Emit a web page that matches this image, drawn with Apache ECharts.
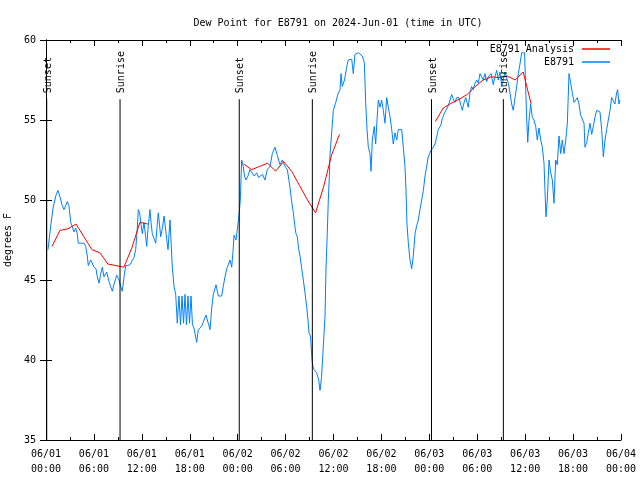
<!DOCTYPE html>
<html><head><meta charset="utf-8">
<script src="https://cdn.jsdelivr.net/npm/echarts@6/dist/echarts.min.js"></script>
<style>html,body{margin:0;padding:0;background:#fff}#c{width:640px;height:480px}</style>
</head><body><div id="c"></div>
<script>
// Observed dew point (hours since 2024-06-01 00:00 UTC, degrees F)
const obsHours = [0.25,0.5,0.88,1.25,1.5,1.75,2.0,2.25,2.67,2.88,3.1,3.25,3.5,3.72,3.92,4.04,4.76,4.97,5.17,5.3,5.6,5.76,6.0,6.26,6.42,6.64,6.82,7.05,7.26,7.6,7.89,8.08,8.3,8.5,8.85,9.14,9.35,9.55,9.77,9.98,10.27,10.6,10.77,11.02,11.23,11.4,11.56,11.73,11.86,12.06,12.27,12.48,12.61,12.77,13.02,13.15,13.31,13.52,13.74,13.9,14.06,14.21,14.36,14.59,14.78,14.99,15.15,15.28,15.4,15.53,15.65,15.82,16.03,16.24,16.44,16.65,16.84,17.03,17.22,17.41,17.59,17.78,17.97,18.16,18.34,18.53,18.87,19.07,19.28,19.5,19.78,20.04,20.32,20.54,20.75,20.95,21.29,21.58,22.0,22.2,22.41,22.63,22.83,23.04,23.25,23.42,23.54,23.79,24.04,24.2,24.33,24.5,24.7,24.85,25.04,25.29,25.54,25.8,26.08,26.38,26.61,26.8,27.11,27.42,27.71,28.05,28.34,28.68,28.96,29.3,29.59,29.93,30.22,30.55,30.74,30.97,31.18,31.3,31.47,31.62,31.81,32.0,32.22,32.43,32.65,32.81,32.93,33.12,33.31,33.43,33.56,33.75,33.9,34.15,34.31,34.5,34.72,34.94,35.06,35.22,35.35,35.46,35.56,35.77,35.98,36.28,36.6,36.82,36.94,37.1,37.38,37.65,37.85,38.28,38.48,38.69,38.9,39.11,39.32,39.61,39.86,40.03,40.2,40.36,40.57,40.7,40.86,41.11,41.28,41.45,41.61,41.82,42.03,42.24,42.45,42.66,42.86,43.08,43.29,43.49,43.7,43.92,44.11,44.33,44.54,44.74,44.95,45.08,45.2,45.37,45.58,45.79,45.99,46.21,46.42,46.62,46.83,47.04,47.25,47.46,47.67,47.87,48.21,48.5,48.71,48.92,49.12,49.46,49.62,49.96,50.38,50.59,50.8,51.0,51.21,51.42,51.71,51.96,52.13,52.3,52.55,52.72,52.88,53.09,53.3,53.5,53.72,53.93,54.13,54.34,54.55,54.76,54.97,55.18,55.39,55.72,56.01,56.22,56.43,56.63,56.85,57.06,57.26,57.47,57.68,57.89,58.1,58.31,58.51,58.73,58.94,59.14,59.35,59.56,59.77,59.92,60.07,60.2,60.32,60.48,60.69,60.89,61.1,61.32,61.52,61.73,61.95,62.15,62.36,62.48,62.61,62.77,62.99,63.17,63.4,63.61,63.82,64.02,64.24,64.45,64.65,64.86,65.08,65.28,65.49,65.7,65.9,66.12,66.33,66.53,66.74,66.95,67.16,67.37,67.49,67.71,67.91,68.12,68.33,68.53,68.75,68.96,69.16,69.37,69.58,69.79,70.0,70.2,70.41,70.62,70.83,71.03,71.24,71.45,71.58,71.74,71.87];
const obsDew = [46.9,48.0,49.5,50.3,50.6,50.2,49.7,49.4,49.9,49.6,48.6,48.4,48.0,48.25,47.9,47.3,47.3,47.1,46.5,45.9,46.25,46.1,45.8,45.7,45.2,44.8,45.3,45.8,45.2,45.5,44.9,44.6,44.3,44.7,45.3,45.0,44.6,44.3,45.2,45.9,45.9,46.0,46.2,46.4,46.9,48.0,49.4,49.2,48.6,47.9,48.6,47.7,47.1,48.2,49.4,48.6,47.9,47.6,47.3,48.3,49.2,48.5,47.7,48.3,49.0,48.1,47.4,46.9,47.8,48.75,47.5,45.8,44.6,44.1,42.3,44.0,42.2,44.0,42.3,44.1,42.2,44.0,42.3,44.0,42.2,42.0,41.1,41.9,41.9,42.1,42.5,42.8,42.3,41.9,43.25,44.1,44.7,44.0,44.0,44.6,45.2,45.7,45.8,46.25,45.8,46.8,47.8,47.5,48.5,49.2,50.0,52.5,52.1,51.5,51.25,51.5,51.9,51.7,51.5,51.7,51.4,51.5,51.6,51.25,51.9,52.1,52.9,53.3,52.8,52.2,52.5,52.1,51.9,50.8,50.0,49.2,48.3,47.9,47.7,47.0,46.5,45.8,45.0,44.2,43.3,42.5,41.7,41.5,40.0,39.6,39.4,39.3,39.2,38.75,38.1,38.9,40.8,42.8,45.7,47.9,50.0,51.25,52.8,54.2,55.6,56.1,56.7,56.9,57.9,57.1,57.5,58.3,58.75,58.8,57.9,59.1,59.0,59.2,59.3,59.0,58.6,56.1,54.4,53.3,52.9,51.8,53.75,54.6,53.5,55.0,56.25,55.8,56.25,55.6,54.8,56.4,55.8,55.2,54.4,53.5,54.2,53.75,54.4,54.5,54.4,53.3,52.1,50.6,48.5,47.3,46.25,45.7,46.5,47.9,48.4,48.75,49.4,50.0,50.6,51.5,52.1,52.7,53.1,53.3,53.5,53.95,54.4,54.7,55.1,55.5,55.9,56.25,56.6,56.3,56.1,56.4,56.4,55.9,55.6,56.0,56.4,56.1,55.8,56.7,57.1,56.9,57.3,57.5,57.3,57.9,57.8,57.5,57.9,57.4,57.7,57.9,57.2,57.7,58.1,57.5,58.0,57.1,57.5,58.0,57.9,57.3,56.7,56.0,55.6,56.4,57.1,57.9,58.5,59.2,59.2,59.2,56.9,55.0,53.6,55.0,56.0,55.2,55.0,54.6,53.75,54.5,53.75,53.3,52.3,50.6,48.95,50.0,52.5,51.8,51.25,49.8,52.5,52.2,54.0,52.9,53.75,52.9,53.75,54.8,57.9,57.3,56.7,56.1,56.25,56.4,56.0,55.3,55.2,54.8,53.3,53.6,54.2,54.8,54.1,54.6,55.2,55.6,55.7,55.5,54.4,52.7,53.75,54.4,55.0,55.6,56.4,56.2,56.0,56.7,56.9,56.0,56.25];

// Analysis (hourly, three separate runs)
const anaHours1 = [0.75,1.75,2.75,3.75,4.75,5.75,6.75,7.75,8.75,9.75,10.75,11.75,12.75];
const anaDew1 = [47.1,48.1,48.2,48.5,47.7,46.9,46.7,46.0,45.9,45.8,47.0,48.6,48.5];
const anaHours2 = [24.75,25.75,26.75,27.75,28.75,29.75,30.75,31.75,32.75,33.75,34.75,35.75,36.75];
const anaDew2 = [52.25,51.9,52.1,52.3,51.8,52.4,51.8,50.9,50.0,49.2,50.8,52.8,54.1];
const anaHours3 = [48.75,49.75,50.75,51.75,52.75,53.75,54.75,55.75,56.75,57.75,58.75,59.75,60.75];
const anaDew3 = [54.9,55.75,56.05,56.3,56.6,57.1,57.5,57.7,57.65,57.75,57.5,58.0,56.0];

// Sun events
const eventHours = [0.09, 9.27, 24.2, 33.35, 48.27, 57.27];
const eventLabels = ['Sunset','Sunrise','Sunset','Sunrise','Sunset','Sunrise'];
const eventTop = 56.3;

const yTicks = [35,40,45,50,55,60];
const xTickHours = [0,6,12,18,24,30,36,42,48,54,60,66,72];

const FONT = 'DejaVu Sans Mono';
const obsData = obsHours.map((h,i)=>[h, obsDew[i]]);
const anaData = [];
[[anaHours1,anaDew1],[anaHours2,anaDew2],[anaHours3,anaDew3]].forEach(([hs,vs],k)=>{
  if(k>0) anaData.push([hs[0]-0.5,'-']);
  hs.forEach((h,i)=>anaData.push([h,vs[i]]));
});
function fmtX(v){
  const d = 1 + Math.floor(v/24);
  const hh = Math.round(v % 24);
  return '06/0' + d + '\n' + (hh<10?'0':'') + hh + ':00';
}
const chart = echarts.init(document.getElementById('c'), null, {renderer:'canvas'});
const axBase = {
  type:'value', min:xTickHours[0], max:xTickHours[xTickHours.length-1], interval:6,
  axisLine:{show:true, lineStyle:{color:'#000', width:1}},
  axisTick:{show:true, inside:true, length:6, lineStyle:{color:'#000'}},
  minorTick:{show:true, splitNumber:2, length:3, lineStyle:{color:'#000'}},
  splitLine:{show:false}, minorSplitLine:{show:false}
};
const ayBase = {
  type:'value', min:yTicks[0], max:yTicks[yTicks.length-1], interval:5,
  axisLine:{show:true, lineStyle:{color:'#000', width:1}},
  axisTick:{show:true, inside:true, length:6, lineStyle:{color:'#000'}},
  splitLine:{show:false}
};
chart.setOption({
  animation:false,
  backgroundColor:'#fff',
  title:{text:'Dew Point for E8791 on 2024-Jun-01 (time in UTC)', left:333, top:13, textAlign:'center',
    textStyle:{fontFamily:FONT, fontSize:10, fontWeight:'normal', color:'#000'}},
  legend:[
    {data:['E8791 Analysis'], right:30, top:44, align:'right', icon:'rect', itemWidth:28, itemHeight:1.5,
     textStyle:{fontFamily:FONT, fontSize:10, color:'#000', padding:[0,3,0,0]}, selectedMode:false, padding:0},
    {data:['E8791'], right:30, top:57, align:'right', icon:'rect', itemWidth:28, itemHeight:1.5,
     textStyle:{fontFamily:FONT, fontSize:10, color:'#000', padding:[0,3,0,0]}, selectedMode:false, padding:0}
  ],
  grid:{left:46, right:19, top:40, bottom:40, containLabel:false, outerBoundsMode:'none'},
  xAxis:[
    Object.assign({}, axBase, {position:'bottom',
      axisLabel:{show:true, formatter:fmtX, fontFamily:FONT, fontSize:10, color:'#000', margin:7, lineHeight:15}}),
    Object.assign({}, axBase, {position:'top', axisLabel:{show:false}})
  ],
  yAxis:[
    Object.assign({}, ayBase, {position:'left', name:'degrees F', nameLocation:'middle', nameGap:27, nameRotate:90,
      nameTextStyle:{fontFamily:FONT, fontSize:10, color:'#000'},
      axisLabel:{show:true, fontFamily:FONT, fontSize:10, color:'#000', margin:10}}),
    Object.assign({}, ayBase, {position:'right', axisLabel:{show:false}})
  ],
  series:[
    {name:'E8791 Analysis', type:'line', data:anaData, symbol:'none', connectNulls:false,
     lineStyle:{color:'#ff0000', width:1}, itemStyle:{color:'#ff0000'}, z:3},
    {name:'E8791', type:'line', data:obsData, symbol:'none',
     lineStyle:{color:'#0080ff', width:1}, itemStyle:{color:'#0080ff'}, z:2},
    {name:'sun', type:'custom', data:eventHours.map(h=>[h, eventTop]), z:4, silent:true,
     renderItem:function(params, api){
       const h = api.value(0);
       const p0 = api.coord([h, yTicks[0]]);
       const p1 = api.coord([h, api.value(1)]);
       return {type:'group', children:[
         {type:'line', shape:{x1:p0[0], y1:p0[1], x2:p1[0], y2:p1[1]}, style:{stroke:'#000', lineWidth:1}},
         {type:'text', x:p1[0]+1.5, y:p1[1]-6, rotation:Math.PI/2,
          style:{text:eventLabels[params.dataIndex], fontFamily:FONT, fontSize:10, fill:'#000', align:'left', verticalAlign:'middle'}}
       ]};
     }}
  ]
});
</script></body></html>
